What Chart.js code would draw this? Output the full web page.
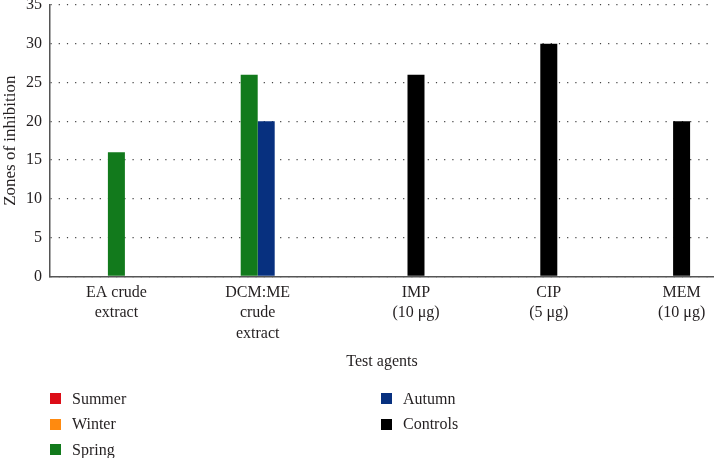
<!DOCTYPE html>
<html>
<head>
<meta charset="utf-8">
<script src="https://cdn.jsdelivr.net/npm/chart.js@4.4.1/dist/chart.umd.min.js"></script>
<style>
  body { margin: 0; background: #fff; }
  #wrap { position: relative; width: 714px; height: 458px; }
  #legend {
    position: absolute; left: 50px; top: 386px;
    display: grid; grid-auto-flow: column;
    grid-template-rows: repeat(3, 25.5px); grid-template-columns: 331px auto;
    font: 16px "Liberation Serif", serif; color: #231f20;
  }
  .item { display: flex; align-items: center; }
  .box { width: 11px; height: 11px; margin-right: 11px; }
</style>
</head>
<body>
<div id="wrap">
  <canvas id="chart" width="714" height="458"></canvas>
  <div id="legend"></div>
</div>
<script>
// categories and series
const categories = [["EA crude", "extract"], ["DCM:ME", "crude", "extract"], ["IMP", "(10 μg)"], ["CIP", "(5 μg)"], ["MEM", "(10 μg)"]];
const seriesNames = ["Summer", "Winter", "Spring", "Autumn", "Controls"];
const summer = [null, null, null, null, null];
const winter = [null, null, null, null, null];
const spring = [16, 26, null, null, null];
const autumn = [null, 20, null, null, null];
const controls = [null, null, 26, 30, 20];
const yTicks = [0, 5, 10, 15, 20, 25, 30, 35];

const colors = ['#dc0d17', '#ff8a0f', '#127a1c', '#07307f', '#000000'];
const textColor = '#231f20';
const fontFamily = '"Liberation Serif", serif';

// x labels drawn under the bars that are present in each group
const groupLabels = {
    id: 'groupLabels',
    afterDraw(chart) {
        const ctx = chart.ctx;
        const xs = chart.scales.x;
        const lineH = 20.5;
        ctx.save();
        ctx.font = '16px ' + fontFamily;
        ctx.fillStyle = textColor;
        ctx.textAlign = 'center';
        ctx.textBaseline = 'middle';
        categories.forEach(function (lab, j) {
            let sum = 0, n = 0;
            chart.data.datasets.forEach(function (ds, i) {
                if (ds.data[j] != null) {
                    sum += chart.getDatasetMeta(i).data[j].x;
                    n++;
                }
            });
            const x = n ? sum / n : xs.getPixelForValue(j);
            lab.forEach(function (line, k) {
                ctx.fillText(line, x, xs.top + 6 + lineH * (k + 0.5));
            });
        });
        ctx.restore();
    }
};

const seriesData = [summer, winter, spring, autumn, controls];
const chart = new Chart(document.getElementById('chart'), {
    type: 'bar',
    data: {
        labels: categories,
        datasets: seriesNames.map(function (name, i) {
            return { label: name, data: seriesData[i], backgroundColor: colors[i] };
        })
    },
    options: {
        responsive: false,
        animation: false,
        categoryPercentage: 0.64,
        barPercentage: 1,
        layout: { padding: { top: 5, bottom: 87, left: 0, right: 0 } },
        plugins: { legend: { display: false }, tooltip: { enabled: false } },
        scales: {
            x: {
                grid: { display: false },
                border: { color: '#555', width: 1.5 },
                ticks: {
                    color: 'transparent', maxRotation: 0, autoSkip: false, padding: 6,
                    font: { family: fontFamily, size: 16, lineHeight: 1.28 }
                },
                title: {
                    display: true, text: 'Test agents', color: textColor,
                    font: { family: fontFamily, size: 16 }, padding: { top: -6, bottom: 0 }
                }
            },
            y: {
                min: 0, max: 35,
                afterBuildTicks: function (s) { s.ticks = yTicks.map(v => ({ value: v })); },
                afterFit: function (s) { s.width = 50; s.paddingTop = 0; s.paddingBottom = 0; },
                grid: { color: '#444', lineWidth: 1.2, drawTicks: false },
                border: { color: '#555', width: 1.5, dash: [1.2, 7] },
                ticks: { color: textColor, padding: 8, font: { family: fontFamily, size: 16 } },
                title: {
                    display: true, text: 'Zones of inhibition', color: textColor,
                    font: { family: fontFamily, size: 17 }, padding: 0
                }
            }
        }
    },
    plugins: [groupLabels]
});

// two-column legend, filled top to bottom
const legend = document.getElementById('legend');
chart.data.datasets.forEach(function (ds) {
    const item = document.createElement('div');
    item.className = 'item';
    item.innerHTML = '<span class="box" style="background:' + ds.backgroundColor + '"></span>' + ds.label;
    legend.appendChild(item);
});
</script>
</body>
</html>
